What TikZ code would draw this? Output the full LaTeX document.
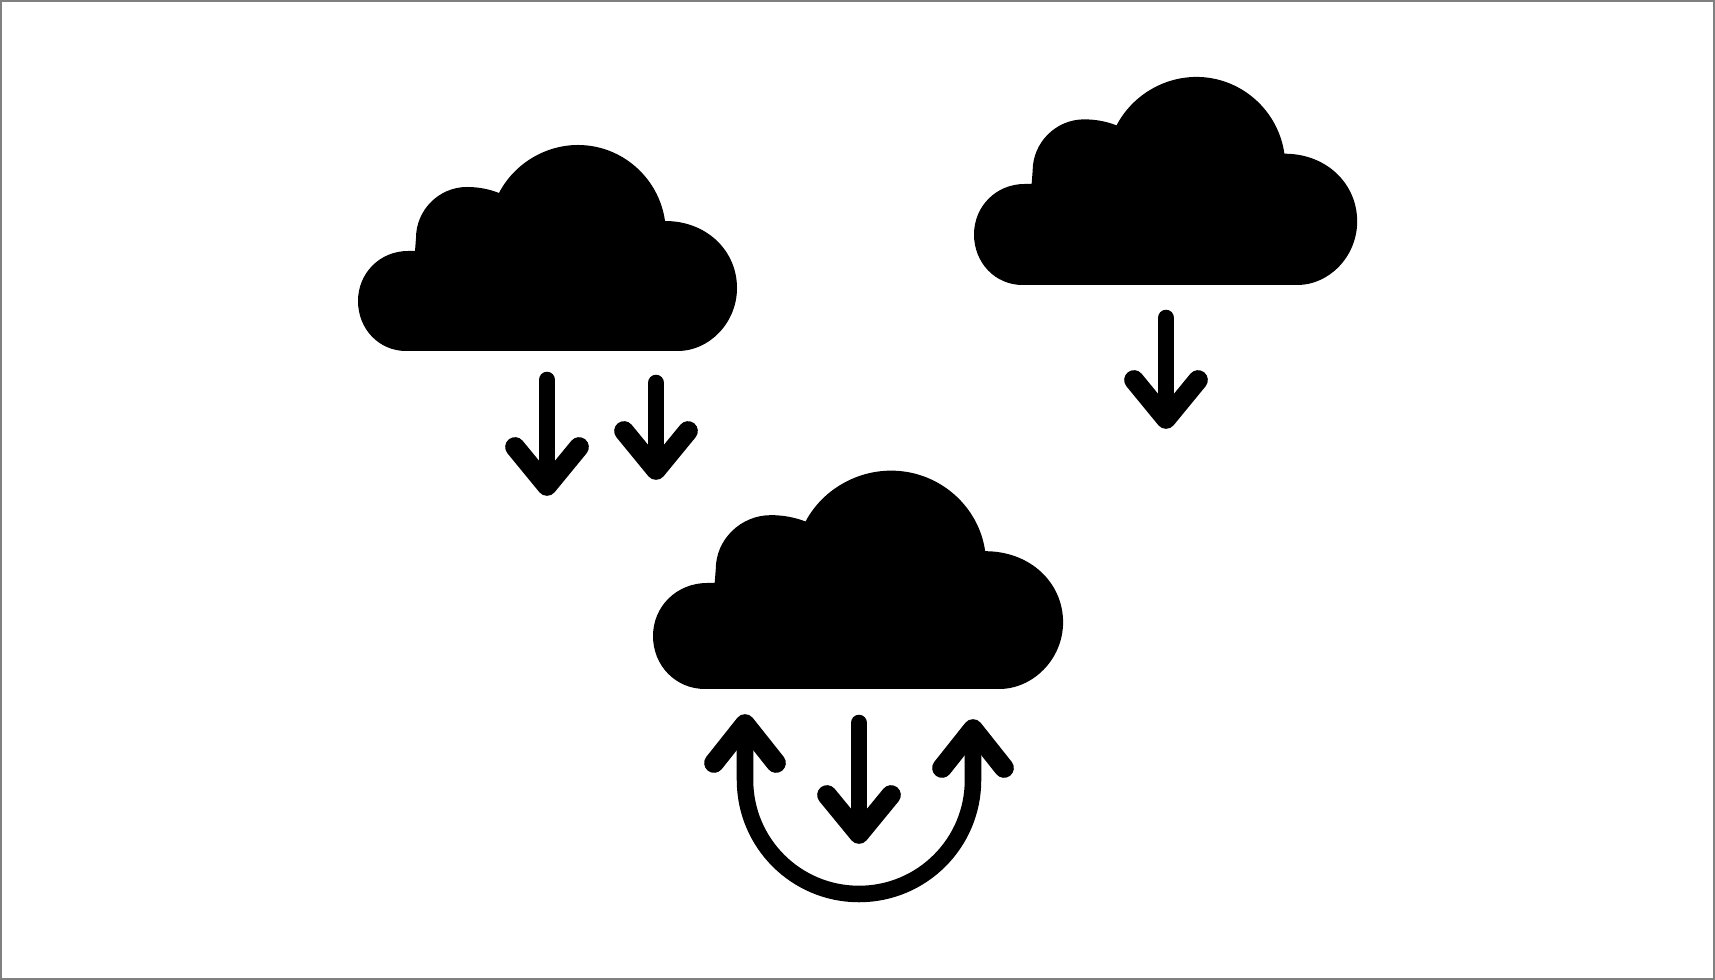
\documentclass[tikz,border=0pt]{standalone}
\usepackage{tikz}
\tikzset{stem/.style={draw=black, line width=4.7pt, line cap=round, line join=round},
	chevron/.style={stem, line width=5.6pt}}
\newcommand{\cloudblob}[5]{
	\begin{scope}[shift={(#2,#3)},xscale=#4,yscale=#5]
	\fill [black] (48,0) .. controls (21,0) and (0,-22) .. (0,-50)
		.. controls (0,-78) and (22,-100) .. (50,-100) -- (57,-100) -- (58,-113)
		.. controls (58,-141) and (81,-164) .. (109,-164)
		.. controls (120,-164) and (131,-162) .. (141,-158)
		.. controls (156,-187) and (187,-206) .. (220,-206)
		.. controls (264,-206) and (301,-173) .. (307,-130)
		.. controls (349,-130) and (379,-100) .. (379,-63)
		.. controls (379,-28) and (351,0) .. (320,0) -- cycle;
	\end{scope}}
\newcommand{\droparrow}[4]{
	\coordinate (#1tail) at (#2,#3);
	\coordinate (#1tip) at (#2,#4);
	\draw [stem] (#1tail) -- (#1tip);
	\draw [chevron] (#1tip) ++(-32,-39) -- (#1tip) -- ++(32,-39);}

\begin{document}
\begin{tikzpicture}[x=0.01cm,y=-0.01cm]
	\useasboundingbox (0,0) rectangle (1715,980);
	\draw [gray,line width=0.6pt] (1,1) rectangle (1714,979);
	\cloudblob{left}{358}{351}{1}{1}
	\cloudblob{right}{974}{285}{1.011}{1.01}
	\cloudblob{mid}{653}{689}{1.082}{1.06}
	\droparrow{a1}{547}{380}{486}
	\droparrow{a2}{656}{383}{470}
	\droparrow{a3}{1166}{318}{419}
	\droparrow{a4}{859}{723}{834}
	\coordinate (uleft) at (745,724);
	\coordinate (uright) at (973,729);
	\coordinate (ubottom) at (859,894);
	\draw [stem] (uleft) -- (745,780) .. controls (745,843) and (796,894) .. (ubottom)
		.. controls (922,894) and (973,843) .. (973,780) -- (uright);
	\draw [chevron] (uleft) ++(-31,39) -- (uleft) -- ++(31,39);
	\draw [chevron] (uright) ++(-31,39) -- (uright) -- ++(31,39);
\end{tikzpicture}
\end{document}
